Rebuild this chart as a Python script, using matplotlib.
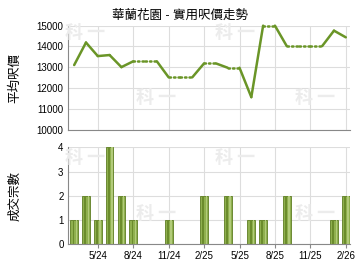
import matplotlib
matplotlib.use("Agg")
import matplotlib.pyplot as plt
import numpy as np

plt.rcParams["font.family"] = ["Liberation Sans", "Noto Sans CJK TC", "DejaVu Sans"]

# months 3/24 .. 2/26
months = ["3/24", "4/24", "5/24", "6/24", "7/24", "8/24", "9/24", "10/24",
          "11/24", "12/24", "1/25", "2/25", "3/25", "4/25", "5/25", "6/25",
          "7/25", "8/25", "9/25", "10/25", "11/25", "12/25", "1/26", "2/26"]
prices = [13110, 14190, 13540, 13590, 13010, 13290, 13290, 13290,
          12520, 12520, 12520, 13190, 13190, 12980, 12980, 11570,
          15000, 15000, 14020, 14020, 14020, 14020, 14760, 14440]
counts = [1, 2, 1, 4, 2, 1, 0, 0, 1, 0, 0, 2, 0, 2, 0, 1, 1, 0, 2, 0, 0, 0, 1, 2]
tick_labels = ["5/24", "8/24", "11/24", "2/25", "5/25", "8/25", "11/25", "2/26"]

LINE = "#6a9527"
GRID = "#dddddd"
SPINE = "#888888"

x = np.arange(len(months))
tick_pos = [months.index(t) for t in tick_labels]
xlim = (-0.55, len(months) - 1 + 0.35)

fig = plt.figure(figsize=(3.6, 2.7), dpi=100)
ax1 = fig.add_axes([0.188, 0.519, 0.784, 0.386])
ax2 = fig.add_axes([0.188, 0.095, 0.784, 0.359])

for ax in (ax1, ax2):
    ax.set_xlim(*xlim)
    ax.set_xticks(tick_pos)
    ax.grid(True, color=GRID, lw=0.8)
    ax.set_axisbelow(True)
    for s in ("top", "right"):
        ax.spines[s].set_visible(False)
    for s in ("left", "bottom"):
        ax.spines[s].set_color(SPINE)
    ax.tick_params(labelsize=7, length=3, color=SPINE, pad=1.5)
    ax.tick_params(axis="y", length=0, pad=3)

# faint "科一" watermarks
for fx, fy in [(0.235, 0.878), (0.653, 0.878), (0.433, 0.64), (0.875, 0.64),
               (0.235, 0.418), (0.653, 0.418), (0.433, 0.21), (0.875, 0.21)]:
    fig.text(fx, fy, "科 一", fontsize=13, fontweight="bold", color="#ececec",
             ha="center", va="center", family=["Noto Sans CJK TC"], zorder=0)

# price line: dotted where the month has no transaction
for i in range(len(x) - 1):
    ls = "-" if counts[i + 1] > 0 else (0, (0.6, 1.2))
    ax1.plot(x[i:i + 2], prices[i:i + 2], color=LINE, lw=1.8, ls=ls,
             solid_capstyle="round", dash_capstyle="round", clip_on=False)
ax1.set_ylim(10000, 15000)
ax1.set_yticks(range(10000, 15001, 1000))
ax1.set_xticklabels([])
ax1.tick_params(axis="x", length=0)
ax1.set_ylabel("平均呎價", fontsize=9)
ax1.yaxis.set_label_coords(-0.165, 0.5)
fig.text(0.5, 0.942, "華蘭花園 - 實用呎價走勢", fontsize=9,
         ha="center", va="center")

# transaction count bars
w = 0.66
ax2.bar(x, counts, width=w, color="#8fb04e", edgecolor="#5d7d22", lw=0.6)
ax2.bar(x - 0.06, counts, width=0.16, color="#6b8c2c", lw=0)
ax2.bar(x + 0.2, counts, width=0.12, color="#b2cb7a", lw=0)
ax2.set_ylim(0, 4)
ax2.set_yticks(range(0, 5))
ax2.set_xticklabels(tick_labels)
ax2.set_ylabel("成交宗數", fontsize=9)
ax2.yaxis.set_label_coords(-0.165, 0.5)

fig.savefig("out.png", dpi=100)
